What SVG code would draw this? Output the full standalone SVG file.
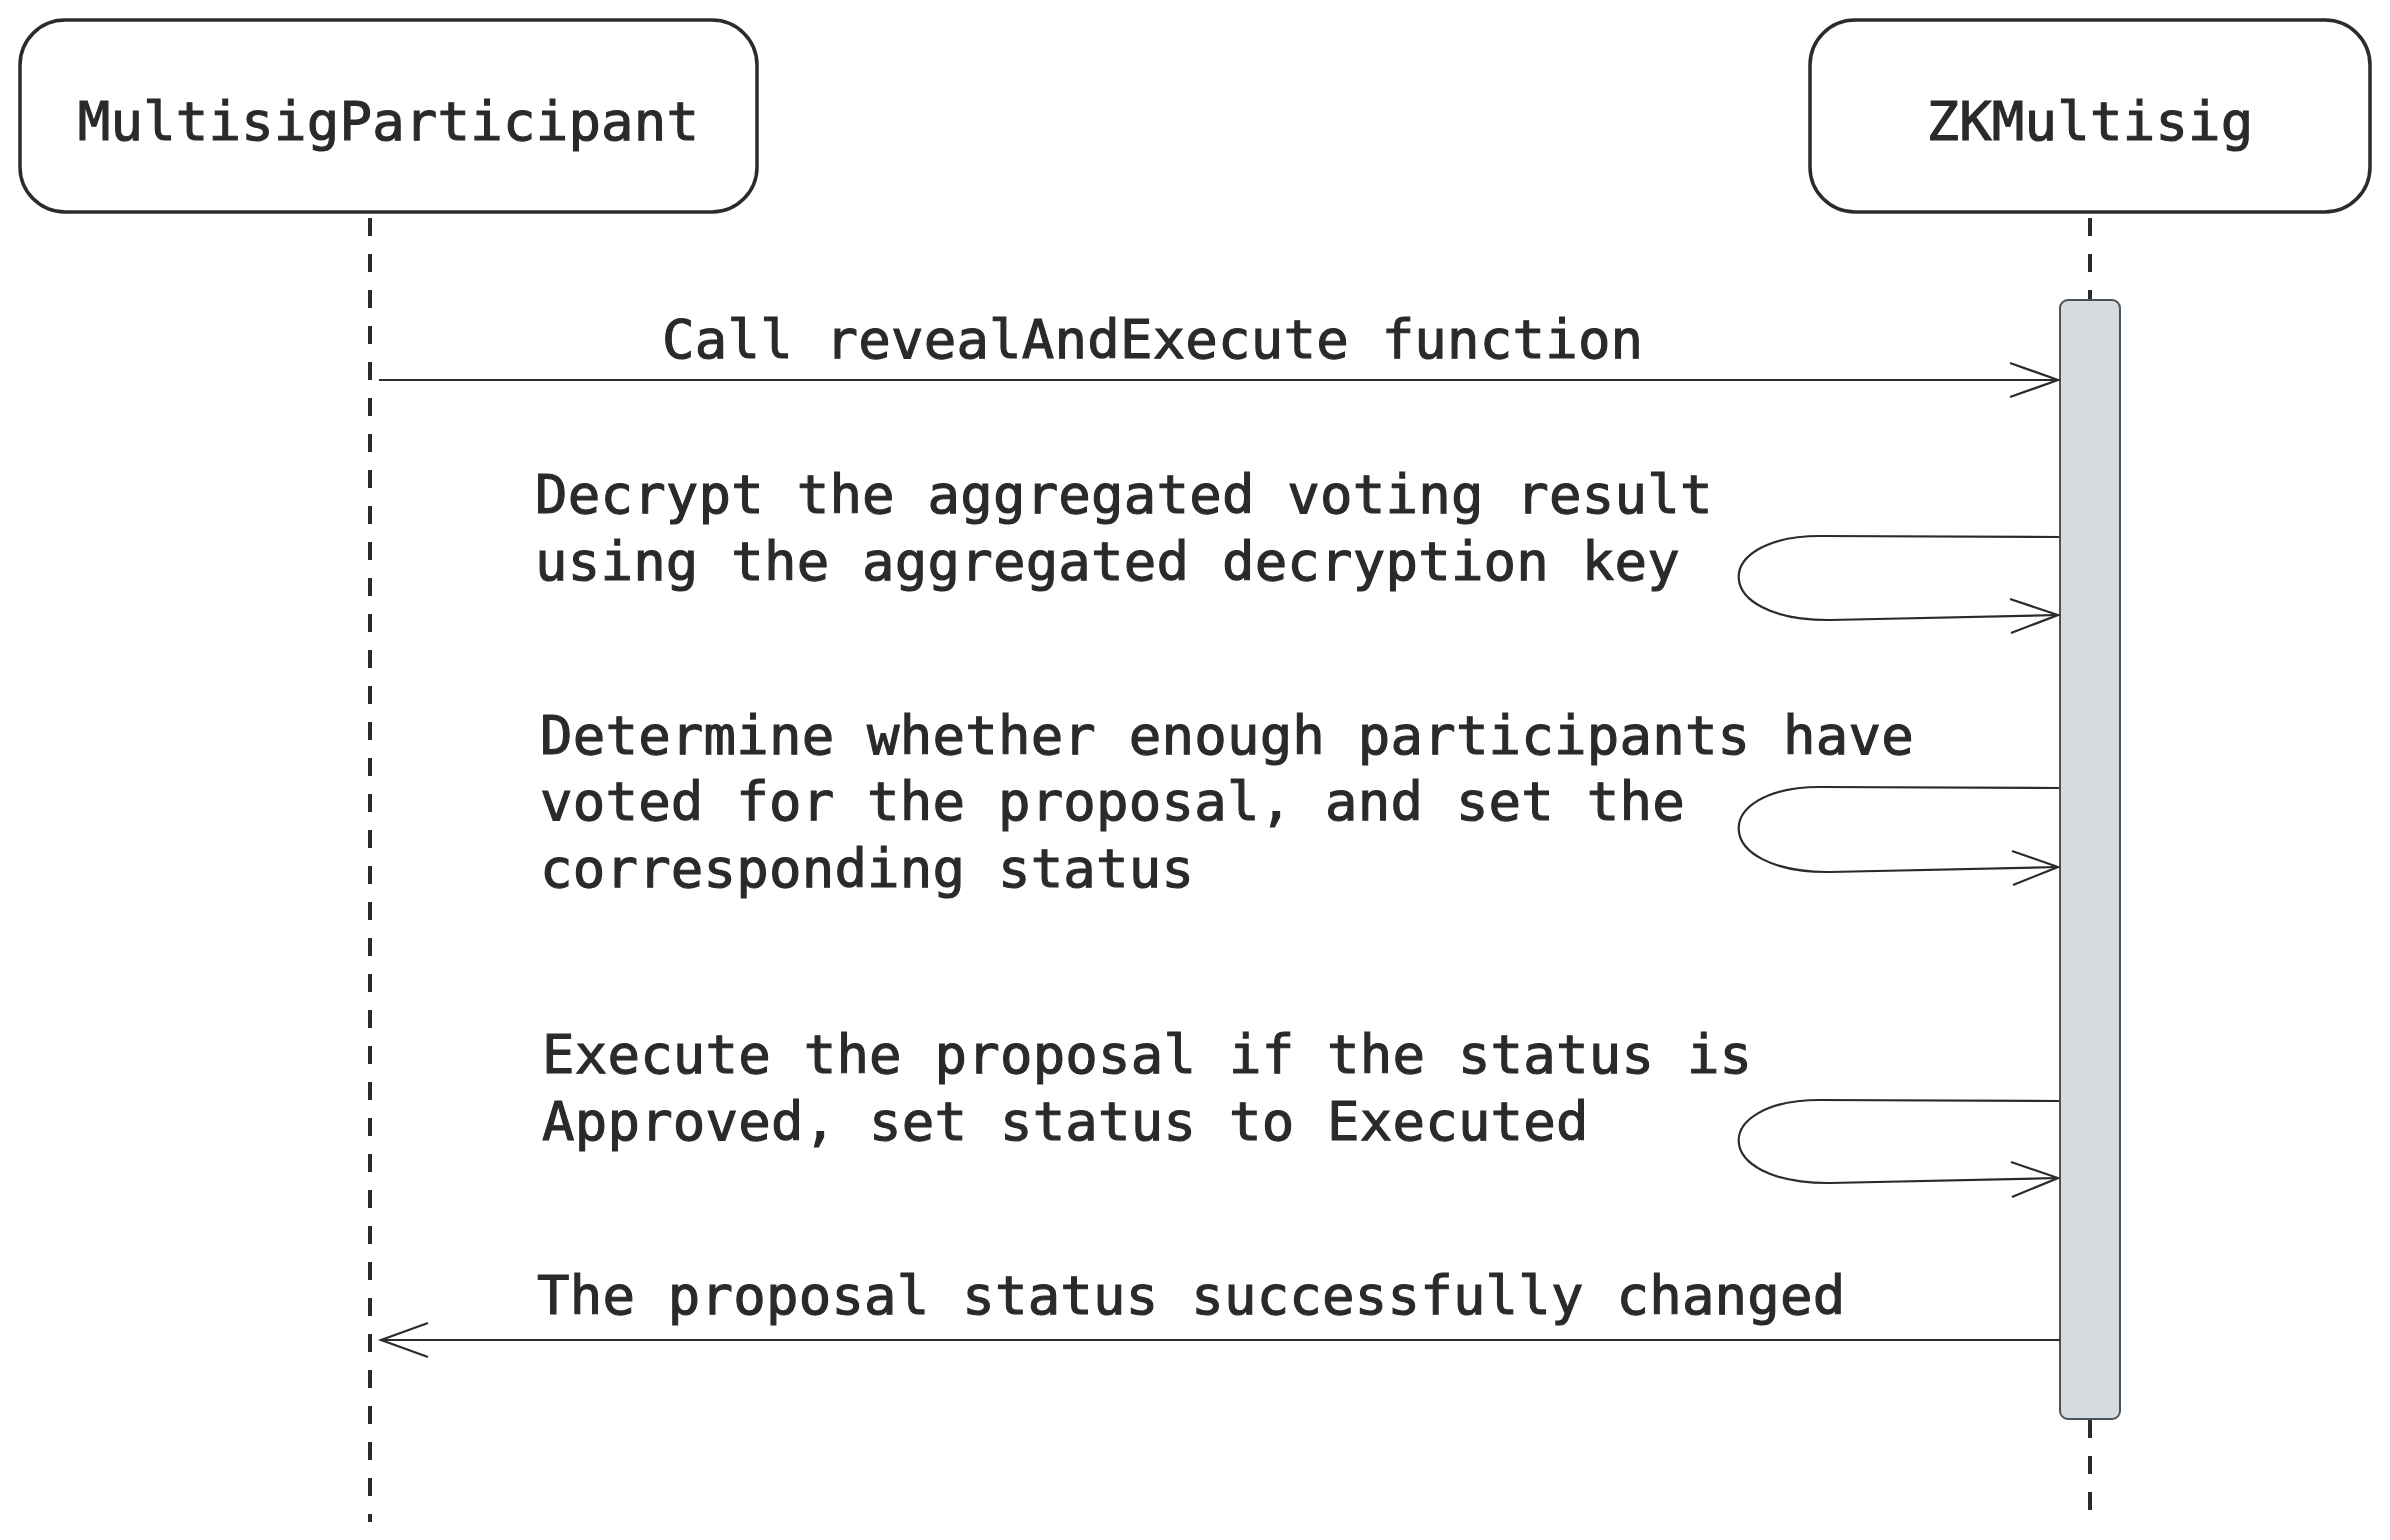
<svg xmlns="http://www.w3.org/2000/svg" width="2390" height="1540" viewBox="0 0 2390 1540">
<defs>
<style>
.box{fill:#ffffff;stroke:#2b2b2b;stroke-width:3.5}
.life{stroke:#2b2b2b;stroke-width:4;stroke-dasharray:18 18;fill:none}
.act{fill:#d6dbdf;stroke:#4b5259;stroke-width:2}
.msg{stroke:#2b2b2b;stroke-width:2.2;fill:none}
.arr{stroke:#2b2b2b;stroke-width:2.2;fill:none}
text{font-family:"DejaVu Sans Mono","Liberation Mono",monospace;font-size:54px;letter-spacing:0.2px;fill:#2a2a2a;stroke:#2a2a2a;stroke-width:1.1}
.hd{text-anchor:middle}
</style>
</defs>
<rect width="2390" height="1540" fill="#ffffff"/>
<g id="lifelines">
<line class="life" x1="370" y1="218" x2="370" y2="1522"/>
<line class="life" x1="2090" y1="218" x2="2090" y2="300"/>
<line class="life" x1="2090" y1="1420" x2="2090" y2="1522"/>
</g>
<g id="MultisigParticipant">
<rect class="box" x="20" y="20" width="737" height="192" rx="45" ry="45"/>
<text class="hd" x="388.5" y="140">MultisigParticipant</text>
</g>
<g id="ZKMultisig">
<rect class="box" x="1810" y="20" width="560" height="192" rx="45" ry="45"/>
<text class="hd" x="2090" y="140">ZKMultisig</text>
</g>
<g id="activation">
<rect class="act" x="2060" y="300" width="60" height="1119" rx="8" ry="8"/>
</g>
<g id="connectors">
<line class="msg" x1="379" y1="380" x2="2058" y2="380"/>
<path class="arr" d="M2010,363 L2058,380 L2010,397"/>
<path class="msg" d="M2059,537 L1820,536 C1710,536 1710,621 1830,620 L2058,615"/>
<path class="arr" d="M2010,599 L2058,615 L2011,633"/>
<path class="msg" d="M2059,788 L1820,787 C1710,787 1710,873 1830,872 L2058,867"/>
<path class="arr" d="M2012,851 L2058,867 L2013,885"/>
<path class="msg" d="M2059,1101 L1820,1100 C1710,1100 1710,1184 1830,1183 L2058,1178"/>
<path class="arr" d="M2011,1162 L2058,1178 L2012,1197"/>
<line class="msg" x1="2060" y1="1340" x2="381" y2="1340"/>
<path class="arr" d="M428,1323 L381,1340 L428,1357"/>
</g>
<g id="labels">
<text x="662" y="358">Call revealAndExecute function</text>
<text x="535" y="513">Decrypt the aggregated voting result</text>
<text x="535" y="580">using the aggregated decryption key</text>
<text x="540" y="754">Determine whether enough participants have</text>
<text x="540" y="820">voted for the proposal, and set the</text>
<text x="540" y="887">corresponding status</text>
<text x="542" y="1073">Execute the proposal if the status is</text>
<text x="542" y="1140">Approved, set status to Executed</text>
<text x="537" y="1314">The proposal status successfully changed</text>
</g>
</svg>
